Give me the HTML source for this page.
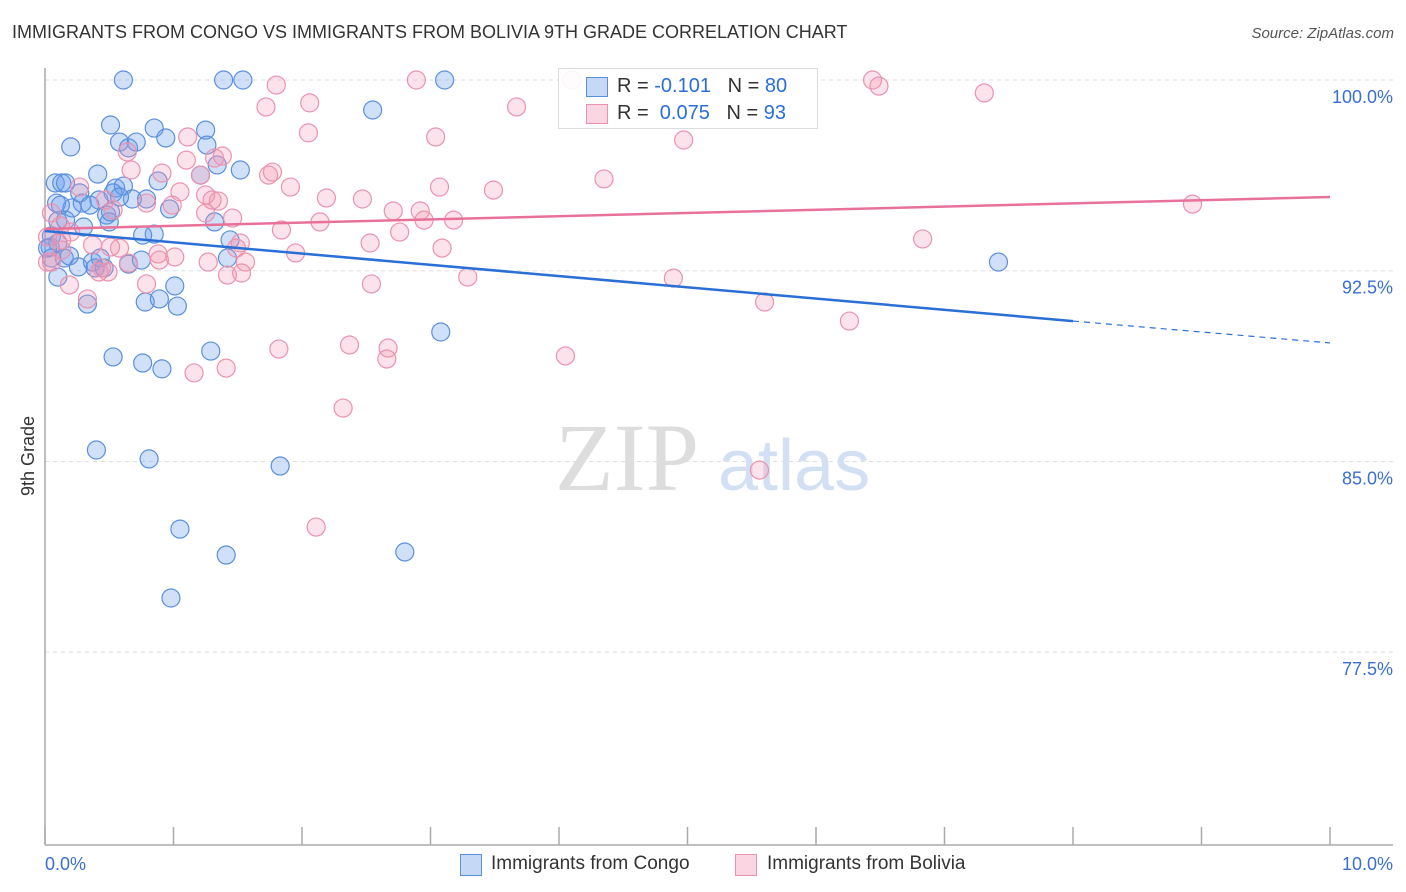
<!DOCTYPE html>
<html><head><meta charset="utf-8">
<style>
body{margin:0;background:#fff;font-family:"Liberation Sans",sans-serif;}
#wrap{position:relative;width:1406px;height:892px;overflow:hidden;}
.t{position:absolute;white-space:nowrap;}
</style></head>
<body>
<div id="wrap">
<div class="t" style="left:12px;top:22px;font-size:18px;color:#333;">IMMIGRANTS FROM CONGO VS IMMIGRANTS FROM BOLIVIA 9TH GRADE CORRELATION CHART</div>
<div class="t" style="right:12px;top:25px;font-size:15px;color:#555;font-style:italic;">Source: ZipAtlas.com</div>
<svg id="chart" width="1406" height="892" style="position:absolute;left:0;top:0"></svg>
</div>
<script>
const blueX=[0.61,1.39,1.54,3.11,2.55,0.51,0.85,1.25,0.20,0.58,0.65,0.71,0.94,1.26,0.41,1.52,1.34,0.08,0.13,0.16,0.88,1.21,0.55,0.61,0.53,0.27,0.42,0.68,0.79,0.97,0.09,0.21,0.29,0.48,0.50,0.30,0.10,0.05,0.04,0.05,0.15,0.19,0.26,0.37,0.43,0.39,0.46,0.65,0.75,0.85,0.76,1.32,1.44,1.42,0.10,0.33,0.78,0.89,1.01,1.03,3.08,0.53,0.76,0.91,1.29,0.40,0.81,1.83,1.05,1.41,2.80,0.98,7.42,0.10,0.02,0.12,0.58,0.51,0.35,0.16];
const blueY=[100,100,100,100,98.82,98.23,98.11,98.03,97.37,97.56,97.33,97.56,97.72,97.44,96.30,96.46,96.66,95.95,95.95,95.95,96.03,96.26,95.75,95.83,95.56,95.56,95.28,95.32,95.32,94.93,95.16,94.97,95.16,94.69,94.42,94.22,94.46,93.87,93.43,93.00,93.00,93.08,92.65,92.84,93.00,92.61,92.61,92.76,92.92,93.94,93.90,94.42,93.71,93.00,92.25,91.19,91.27,91.39,91.90,91.11,90.09,89.11,88.87,88.64,89.34,85.45,85.10,84.82,82.34,81.32,81.44,79.63,92.84,93.59,93.39,95.08,95.40,94.81,95.08,94.49];
const pinkX=[4.10,2.89,6.44,6.49,1.80,1.72,2.06,3.67,7.31,2.05,3.04,4.97,1.11,0.64,1.10,1.32,1.38,4.35,0.67,0.91,1.21,1.74,1.77,1.91,3.07,3.49,0.27,0.47,1.05,1.25,2.19,2.47,0.79,0.99,0.53,1.35,1.25,1.46,1.84,2.14,2.71,2.92,2.95,3.18,0.05,0.12,0.20,0.13,0.02,0.05,0.37,0.58,1.49,2.53,2.76,3.09,6.83,8.93,0.88,1.01,1.27,1.56,1.53,1.95,0.44,0.49,0.65,0.19,0.33,0.79,2.54,3.29,4.89,5.60,6.26,1.82,2.37,2.67,2.66,4.05,1.16,1.41,2.32,2.11,5.56,0.02,0.13,0.89,0.42,0.51,1.52,1.42,1.30];
const pinkY=[100,100,100,99.76,99.80,98.94,99.10,98.94,99.49,97.92,97.76,97.64,97.76,97.17,96.85,96.93,97.01,96.11,96.46,96.34,96.26,96.26,96.38,95.79,95.79,95.67,95.79,95.28,95.60,95.48,95.36,95.32,95.16,95.08,94.89,95.24,94.77,94.57,94.10,94.42,94.85,94.85,94.49,94.49,94.77,94.26,94.02,93.71,93.83,92.84,93.51,93.39,93.39,93.59,94.02,93.39,93.75,95.12,93.16,93.04,92.84,92.84,92.41,93.20,92.61,92.45,92.80,91.94,91.39,91.98,91.98,92.25,92.21,91.27,90.52,89.42,89.58,89.46,89.03,89.15,88.48,88.67,87.10,82.42,84.66,92.84,93.31,92.92,92.45,93.43,93.59,92.33,95.28];
const blueTrendY=[94.06,90.52,89.66];
const blueTrendX=[0,8,10];
const pinkTrendY=[94.14,95.40];
const pinkTrendX=[0,10];
const yTicks=[100,92.5,85,77.5];
const yTickLabels=["100.0%","92.5%","85.0%","77.5%"];
const xTickLabels=["0.0%","10.0%"];

const NS="http://www.w3.org/2000/svg";
const svg=document.getElementById('chart');
const X0=45,X1=1330,Y100=80,PPY=25.43;
function sx(v){return X0+(X1-X0)*v/10;}
function sy(v){return Y100+(100-v)*PPY;}
function mk(tag,attrs){const e=document.createElementNS(NS,tag);for(const k in attrs)e.setAttribute(k,attrs[k]);svg.appendChild(e);return e;}

// gridlines + labels
yTicks.forEach((t,i)=>{
  const g=mk('line',{x1:X0,x2:1393,y1:sy(t),y2:sy(t),stroke:'#ddd','stroke-dasharray':'4,4','stroke-width':1});
  
  
  const l=mk('text',{x:1393,y:sy(t)+23,'text-anchor':'end','font-size':18,fill:'#3a6fd0','font-family':'Liberation Sans, sans-serif'});
  l.textContent=yTickLabels[i];
  
  
});
// axes
let ax=mk('line',{x1:X0,x2:X0,y1:68,y2:845,stroke:'#aaa','stroke-width':1.5});


ax=mk('line',{x1:X0,x2:1393,y1:845,y2:845,stroke:'#aaa','stroke-width':1.5});


for(let i=0;i<=10;i++){
  const tk=mk('line',{x1:sx(i),x2:sx(i),y1:827,y2:845,stroke:'#aaa','stroke-width':1.5});
  
  
}
let xl=mk('text',{x:45,y:870,'font-size':18,fill:'#3a6fd0','font-family':'Liberation Sans, sans-serif'});
xl.textContent=xTickLabels[0];


xl=mk('text',{x:1393,y:870,'text-anchor':'end','font-size':18,fill:'#3a6fd0','font-family':'Liberation Sans, sans-serif'});
xl.textContent=xTickLabels[1];


const yt=mk('text',{x:34,y:456,'text-anchor':'middle','font-size':18,fill:'#333',transform:'rotate(-90 34 456)','font-family':'Liberation Sans, sans-serif'});
yt.textContent='9th Grade';


// watermark
const wm=mk('text',{x:555,y:490,'font-size':96,fill:'#ddd','font-family':'Liberation Serif, serif'});
wm.textContent='ZIP';


const wm2=mk('text',{x:718,y:490,'font-size':72,fill:'#d3e0f3','font-family':'Liberation Sans, sans-serif'});
wm2.textContent='atlas';


// points
blueX.forEach((v,i)=>{
  const c=mk('circle',{cx:sx(v),cy:sy(blueY[i]),r:9,fill:'rgba(110,160,235,0.32)',stroke:'#5b8fdd','stroke-width':1.2});
  
  
});
pinkX.forEach((v,i)=>{
  const c=mk('circle',{cx:sx(v),cy:sy(pinkY[i]),r:9,fill:'rgba(245,150,180,0.28)',stroke:'#ea93ae','stroke-width':1.2});
  
  
});
// trends
let tl=mk('line',{x1:sx(blueTrendX[0]),y1:sy(blueTrendY[0]),x2:sx(blueTrendX[1]),y2:sy(blueTrendY[1]),stroke:'#2a6fd6','stroke-width':2.5});


tl=mk('line',{x1:sx(blueTrendX[1]),y1:sy(blueTrendY[1]),x2:sx(blueTrendX[2]),y2:sy(blueTrendY[2]),stroke:'#2a6fd6','stroke-width':1.2,'stroke-dasharray':'6,5'});


tl=mk('line',{x1:sx(pinkTrendX[0]),y1:sy(pinkTrendY[0]),x2:sx(pinkTrendX[1]),y2:sy(pinkTrendY[1]),stroke:'#e8719a','stroke-width':2.5});


</script>
<div class="t" style="left:558px;top:68px;width:260px;height:61px;border:1px solid #ddd;background:rgba(255,255,255,0.9);box-sizing:border-box;">
  <div style="position:absolute;left:27px;top:8px;width:20px;height:18px;background:rgba(110,160,235,0.4);border:1px solid #5b8fdd;"></div>
  <div class="t" style="left:58px;top:6px;font-size:20px;color:#333;">R = <span style="color:#2a6fd6">-0.101</span>&nbsp;&nbsp;&nbsp;N = <span style="color:#2a6fd6">80</span></div>
  <div style="position:absolute;left:27px;top:35px;width:20px;height:18px;background:rgba(245,150,180,0.4);border:1px solid #ea93ae;"></div>
  <div class="t" style="left:58px;top:33px;font-size:20px;color:#333;">R = <span style="color:#2a6fd6">&nbsp;0.075</span>&nbsp;&nbsp;&nbsp;N = <span style="color:#2a6fd6">93</span></div>
</div>
<div style="position:absolute;left:460px;top:854px;width:20px;height:20px;background:rgba(110,160,235,0.4);border:1px solid #5b8fdd;"></div>
<div class="t" style="left:491px;top:853px;font-size:19px;color:#333;">Immigrants from Congo</div>
<div style="position:absolute;left:735px;top:854px;width:20px;height:20px;background:rgba(245,150,180,0.4);border:1px solid #ea93ae;"></div>
<div class="t" style="left:767px;top:853px;font-size:19px;color:#333;">Immigrants from Bolivia</div>
</body></html>
